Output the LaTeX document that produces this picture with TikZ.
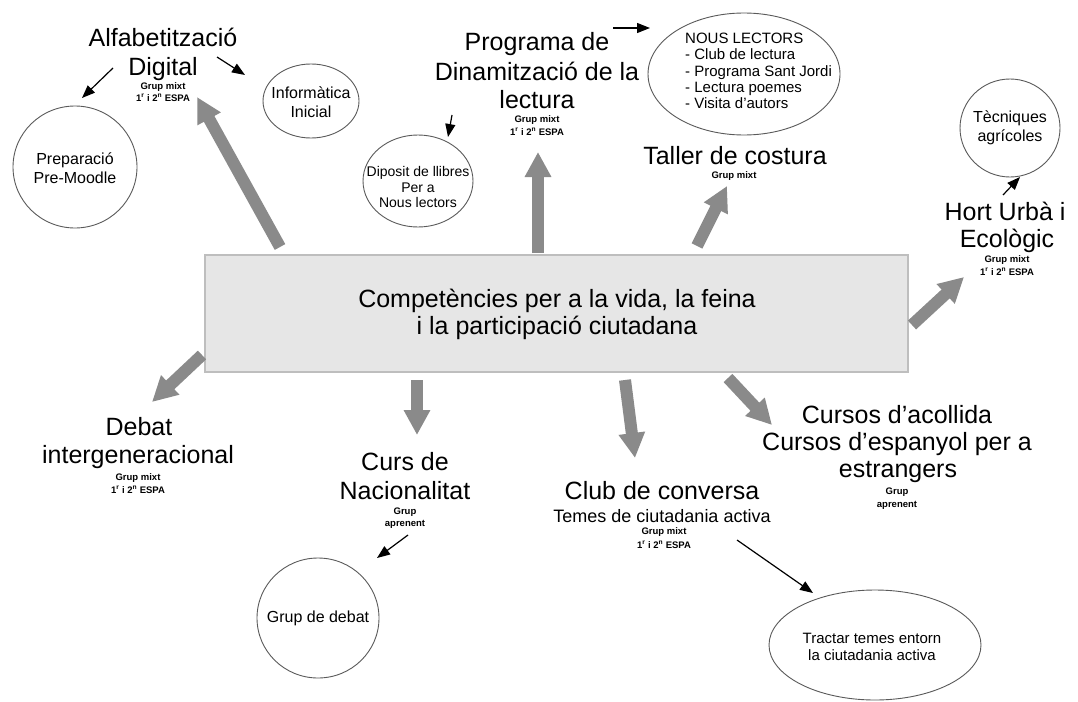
\documentclass[tikz,border=0pt]{standalone}
\usepackage{fontspec}
\setmainfont{Liberation Sans}
\usetikzlibrary{arrows.meta,shapes.geometric}
\definecolor{bigarrow}{RGB}{138,138,138}
\definecolor{boxfill}{RGB}{230,230,230}
\definecolor{boxline}{RGB}{190,190,190}
\definecolor{ellline}{RGB}{90,90,90}
\begin{document}
\begin{tikzpicture}[x=1pt,y=-1pt,
  title/.style={font=\fontsize{25}{28}\selectfont, inner sep=0pt, anchor=base},
  subtitle/.style={font=\fontsize{18}{21}\selectfont, inner sep=0pt, anchor=base},
  tinytext/.style={font=\bfseries\fontsize{9.5}{11}\selectfont, inner sep=0pt, anchor=base},
  bubble/.style={draw=ellline, line width=0.9pt, ellipse, inner sep=0pt},
  bubbletext/.style={inner sep=0pt, align=center, font=\fontsize{16}{19}\selectfont},
  bigarr/.style={draw=bigarrow, line width=12pt, -{Triangle[width=25pt,length=25pt]}},
  thinarr/.style={draw=black, line width=1.2pt, -{Triangle[width=10pt,length=13pt]}},
]
\path[use as bounding box, fill=white] (0,0) rectangle (1078,701);

% central box
\node[draw=boxline, fill=boxfill, line width=1.5pt, minimum width=703pt, minimum height=117pt, inner sep=0pt] (core) at (556.5,313.5) {};
\node[title] (core1) at (557,307) {Competències per a la vida, la feina};
\node[title] (core2) at (557,334) {i la participació ciutadana};

% titles
\node[title] (alf1) at (163,47) {Alfabetització};
\node[title] (alf2) at (163,75) {Digital};
\node[tinytext] (alf3) at (163,89) {Grup mixt};
\node[tinytext] (alf4) at (163,101) {1\textsuperscript{r} i 2\textsuperscript{n} ESPA};

\node[title] (prog1) at (537,51) {Programa de};
\node[title] (prog2) at (537,80) {Dinamització de la};
\node[title] (prog3) at (537,108) {lectura};
\node[tinytext] (prog4) at (537,122) {Grup mixt};
\node[tinytext] (prog5) at (537,135) {1\textsuperscript{r} i 2\textsuperscript{n} ESPA};

\node[title] (tal1) at (735,164) {Taller de costura};
\node[tinytext] (tal2) at (734,178) {Grup mixt};

\node[title] (hort1) at (1005,220) {Hort Urbà i};
\node[title] (hort2) at (1007,247) {Ecològic};
\node[tinytext] (hort3) at (1007,262) {Grup mixt};
\node[tinytext] (hort4) at (1007,275) {1\textsuperscript{r} i 2\textsuperscript{n} ESPA};

\node[title] (deb1) at (139,435) {Debat};
\node[title] (deb2) at (138,463) {intergeneracional};
\node[tinytext] (deb3) at (138,480) {Grup mixt};
\node[tinytext] (deb4) at (138,493) {1\textsuperscript{r} i 2\textsuperscript{n} ESPA};

\node[title] (curs1) at (405,470) {Curs de};
\node[title] (curs2) at (405,499) {Nacionalitat};
\node[tinytext] (curs3) at (405,514) {Grup};
\node[tinytext] (curs4) at (405,526) {aprenent};

\node[title] (club1) at (662,499) {Club de conversa};
\node[subtitle] (club2) at (662,522) {Temes de ciutadania activa};
\node[tinytext] (club3) at (664,534) {Grup mixt};
\node[tinytext] (club4) at (664,548) {1\textsuperscript{r} i 2\textsuperscript{n} ESPA};

\node[title] (acol1) at (897,423) {Cursos d’acollida};
\node[title] (acol2) at (897,450) {Cursos d’espanyol per a};
\node[title] (acol3) at (898,477) {estrangers};
\node[tinytext] (acol4) at (897,494) {Grup};
\node[tinytext] (acol5) at (897,507) {aprenent};

% bubbles
\node[bubble, minimum width=124pt, minimum height=122pt] (pre) at (75,167) {};
\node[bubbletext] (pretext) at (75,168) {Preparació\\Pre-Moodle};

\node[bubble, minimum width=96pt, minimum height=74pt] (inf) at (311,101) {};
\node[bubbletext] (inftext) at (311,102) {Informàtica\\Inicial};

\node[bubble, minimum width=110pt, minimum height=92pt] (dip) at (418,181) {};
\node[bubbletext, font=\fontsize{14}{15.5}\selectfont] (diptext) at (418,187) {Diposit de llibres\\Per a\\Nous lectors};

\node[bubble, minimum width=192pt, minimum height=122pt] (nous) at (744,74) {};
\node[bubbletext, align=left, anchor=west, font=\fontsize{15}{16.3}\selectfont] (noustext) at (685,71) {NOUS LECTORS\\- Club de lectura\\- Programa Sant Jordi\\- Lectura poemes\\- Visita d’autors};

\node[bubble, minimum width=100pt, minimum height=98pt] (tec) at (1010,128) {};
\node[bubbletext] (tectext) at (1010,128) {Tècniques\\agrícoles};

\node[bubble, minimum width=122pt, minimum height=120pt] (gdeb) at (318,618) {};
\node[bubbletext] (gdebtext) at (318,618) {Grup de debat};

\node[bubble, minimum width=212pt, minimum height=110pt] (tra) at (875,645) {};
\node[bubbletext, font=\fontsize{15}{17}\selectfont] (tratext) at (872,647) {Tractar temes entorn\\la ciutadania activa};

% big grey arrows
\coordinate (b1s) at (280,247); \coordinate (b1e) at (197,97);
\coordinate (b2s) at (538,253); \coordinate (b2e) at (538,152);
\coordinate (b3s) at (697,246); \coordinate (b3e) at (727,186);
\coordinate (b4s) at (912,325); \coordinate (b4e) at (964,277);
\coordinate (b5s) at (202,355); \coordinate (b5e) at (152,402);
\coordinate (b6s) at (417,380); \coordinate (b6e) at (417,435);
\coordinate (b7s) at (625,380); \coordinate (b7e) at (635,458);
\coordinate (b8s) at (728,378); \coordinate (b8e) at (772,425);
\foreach \i in {1,...,8} { \draw[bigarr] (b\i s) -- (b\i e); }

% thin arrows
\coordinate (t1s) at (113,68);  \coordinate (t1e) at (82,98);
\coordinate (t2s) at (217,57);  \coordinate (t2e) at (245,75);
\coordinate (t3s) at (452,115); \coordinate (t3e) at (448,137);
\coordinate (t4s) at (613,28);  \coordinate (t4e) at (650,28);
\coordinate (t5s) at (1003,195); \coordinate (t5e) at (1020,177);
\coordinate (t6s) at (408,535); \coordinate (t6e) at (377,558);
\coordinate (t7s) at (737,540); \coordinate (t7e) at (813,593);
\foreach \i in {1,...,7} { \draw[thinarr] (t\i s) -- (t\i e); }
\end{tikzpicture}
\end{document}
